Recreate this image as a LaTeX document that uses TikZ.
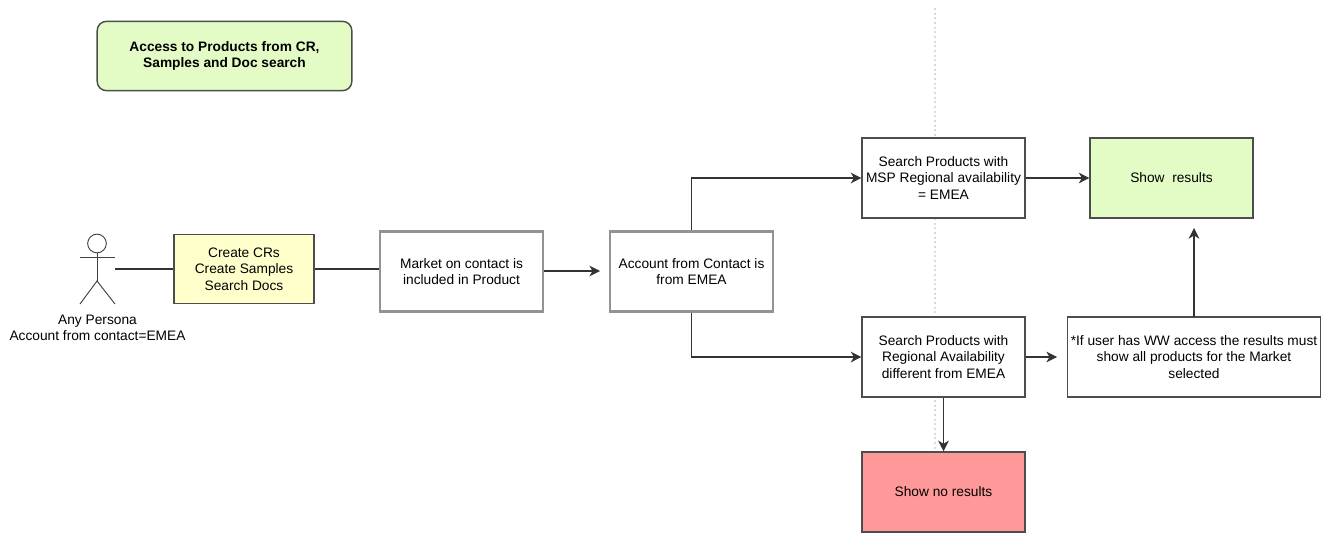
\documentclass[tikz,border=0pt]{standalone}
\usepackage{fontspec}
\setmainfont{Liberation Sans}
\usetikzlibrary{arrows.meta}
\definecolor{palegreen}{HTML}{E3FCC6}
\definecolor{paleyellow}{HTML}{FFFFCC}
\definecolor{palered}{HTML}{FF9999}
\definecolor{edgegray}{HTML}{4D4D4D}
\tikzset{
    boxfont/.style={font=\fontsize{10.3}{12.4}\selectfont},
    box/.style={draw=edgegray,line width=1.1pt,fill=white,align=center,inner sep=0pt,
        minimum width=122pt,minimum height=60pt,boxfont},
    heavybox/.style={box,draw=gray!85,line width=1.6pt},
    link/.style={draw=black!80,line width=0.9pt},
    stick/.style={draw=black!75,line width=0.7pt}
}
\begin{document}
\begin{tikzpicture}[x=0.75pt,y=-0.75pt,>={Stealth[length=8pt,width=8pt,inset=2.4pt]},align=center]
    \useasboundingbox (0,0) rectangle (1333,535);
    \draw[draw=black!14,line width=1.5pt,dotted] (935,8) -- (935,535);
    \node[box,rounded corners=7pt,fill=palegreen,minimum width=191pt,minimum height=52pt,font=\fontsize{10.3}{12.4}\selectfont\bfseries](ntitle) at (224.5,56) {Access to Products from CR,\\Samples and Doc search};
    \node[box,fill=paleyellow,minimum width=105pt,minimum height=52pt](ncreate) at (244,269) {Create CRs\\Create Samples\\Search Docs};
    \node[heavybox](nmarket) at (461.5,271.5) {Market on contact is\\included in Product};
    \node[heavybox](naccount) at (691.5,271.5) {Account from Contact is\\from EMEA};
    \node[box](nmsp) at (943.5,178) {Search Products with\\MSP Regional availability\\= EMEA};
    \node[box,fill=palegreen](nshow) at (1171.5,178) {Show\ \ results};
    \node[box](nregion) at (943.5,357) {Search Products with\\Regional Availability\\different from EMEA};
    \node[box,minimum width=190pt](nww) at (1194,357) {*If user has WW access the results must\\show all products for the Market\\selected};
    \node[box,fill=palered](nnone) at (943.5,492) {Show no results};
    % actor
    \node[circle,stick,fill=white,minimum size=14pt,inner sep=0pt](nhead) at (97,243.5) {};
    \coordinate(narmL) at (80,257);
    \coordinate(narmR) at (115,257);
    \coordinate(nhip) at (97,281);
    \coordinate(nlegL) at (80,304);
    \coordinate(nlegR) at (115,304);
    \draw[stick] (nhead) -- (nhip);
    \draw[stick] (narmL) -- (narmR);
    \draw[stick] (nlegL) -- (nhip) -- (nlegR);
    \node[boxfont,inner sep=0pt](nactor) at (97.5,328) {Any Persona\\Account from contact=EMEA};
    % free ends
    \coordinate(nhand) at (115,269);
    \coordinate(ngapA) at (600,271);
    \coordinate(ngapB) at (1057,357);
    \coordinate(ngapC) at (1194,228);
    \coordinate(nwwtop) at (1194,317);
    \draw[link](nhand) -- (ncreate);
    \draw[link](ncreate) -- (nmarket.west |- ncreate);
    \draw[link,->](nmarket.east |- ngapA) -- (ngapA);
    \draw[link,->](naccount.north) |- (nmsp.west);
    \draw[link,->](naccount.south) |- (nregion.west);
    \draw[link,->](nmsp) -- (nshow);
    \draw[link,->](nregion) -- (ngapB);
    \draw[link,->](nwwtop) -- (ngapC);
    \draw[link,->](nregion) -- (nnone);
\end{tikzpicture}
\end{document}
